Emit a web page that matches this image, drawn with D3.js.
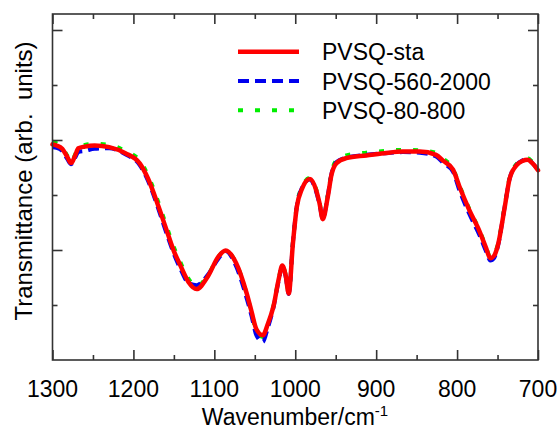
<!DOCTYPE html>
<html>
<head>
<meta charset="utf-8">
<script src="https://cdn.jsdelivr.net/npm/d3@7"></script>
<style>
  html, body { margin: 0; padding: 0; background: #fff; }
  svg { display: block; }
  text { font-family: "Liberation Sans", Arial, sans-serif; fill: #000; }
</style>
</head>
<body>
<svg id="chart" width="558" height="431"></svg>
<script>
// ---- data ----
const wavenumbers = [1300, 1295, 1288, 1282, 1277, 1272, 1268, 1260, 1248, 1230, 1210, 1192, 1182, 1169, 1159, 1150, 1142, 1132, 1122, 1108, 1095, 1086, 1073, 1060, 1054, 1048, 1040, 1034, 1027, 1020, 1016, 1012, 1008, 1003, 998, 992, 982, 974, 970, 966, 960, 955, 949, 937, 912, 890, 867, 846, 826, 817, 805, 797, 785, 772, 764, 759, 754, 750, 741, 735, 726, 719, 713, 707, 700];

const seriesNames = ["PVSQ-sta", "PVSQ-560-2000", "PVSQ-80-800"];

const pvsqSta = [3.92, 3.90, 3.84, 3.70, 3.58, 3.72, 3.85, 3.88, 3.90, 3.87, 3.76, 3.57, 3.30, 2.79, 2.36, 1.98, 1.72, 1.42, 1.29, 1.52, 1.88, 1.99, 1.76, 1.21, 0.88, 0.56, 0.45, 0.65, 0.97, 1.50, 1.72, 1.55, 1.21, 2.10, 2.79, 3.10, 3.29, 3.08, 2.85, 2.56, 2.95, 3.38, 3.58, 3.67, 3.72, 3.76, 3.79, 3.79, 3.73, 3.62, 3.46, 3.15, 2.73, 2.33, 2.03, 1.85, 1.90, 2.06, 2.79, 3.30, 3.55, 3.62, 3.64, 3.58, 3.45];

const pvsq560 = [3.87, 3.86, 3.80, 3.66, 3.56, 3.68, 3.78, 3.80, 3.84, 3.85, 3.74, 3.54, 3.26, 2.74, 2.30, 1.93, 1.66, 1.40, 1.36, 1.55, 1.84, 1.98, 1.70, 1.12, 0.80, 0.45, 0.33, 0.58, 0.95, 1.48, 1.70, 1.53, 1.20, 2.12, 2.80, 3.12, 3.28, 3.05, 2.83, 2.57, 2.97, 3.40, 3.60, 3.68, 3.73, 3.76, 3.78, 3.77, 3.70, 3.58, 3.42, 3.08, 2.66, 2.26, 1.97, 1.81, 1.86, 2.04, 2.80, 3.30, 3.56, 3.63, 3.65, 3.58, 3.46];

const pvsq80 = [3.97, 3.94, 3.86, 3.72, 3.60, 3.74, 3.87, 3.91, 3.93, 3.91, 3.80, 3.62, 3.36, 2.86, 2.43, 2.05, 1.78, 1.48, 1.34, 1.54, 1.88, 1.99, 1.76, 1.20, 0.86, 0.52, 0.42, 0.63, 0.98, 1.51, 1.73, 1.56, 1.23, 2.12, 2.82, 3.13, 3.31, 3.10, 2.87, 2.58, 2.98, 3.42, 3.63, 3.72, 3.77, 3.80, 3.82, 3.81, 3.77, 3.66, 3.48, 3.17, 2.75, 2.35, 2.05, 1.87, 1.92, 2.08, 2.82, 3.32, 3.57, 3.64, 3.67, 3.60, 3.47];

const xMajorTicks = [1300, 1200, 1100, 1000, 900, 800, 700];
const xMinorTicks = [1250, 1150, 1050, 950, 850, 750];
const yMajorTicks = [2, 4, 6];
const yMinorTicks = [1, 3, 5];

// ---- layout ----
const svg = d3.select("#chart");
const L = 52.5, R = 538, T = 14, B = 360;

const x = d3.scaleLinear().domain([1300, 700]).range([L, R]);
const y = d3.scaleLinear().domain([0, (B - T) / 55]).range([B, T]);

const axisColor = "#333";

const styles = {
  "PVSQ-sta": { color: "#ff0000", width: 4.5, dash: null },
  "PVSQ-560-2000": { color: "#0000ee", width: 4, dash: "11,6" },
  "PVSQ-80-800": { color: "#00ee00", width: 4, dash: "5,12" }
};
const seriesValues = { "PVSQ-sta": pvsqSta, "PVSQ-560-2000": pvsq560, "PVSQ-80-800": pvsq80 };

const line = d3.line()
  .x(d => x(d[0]))
  .y(d => y(d[1]))
  .curve(d3.curveMonotoneX);

// draw green, then blue, then red on top
["PVSQ-80-800", "PVSQ-560-2000", "PVSQ-sta"].forEach(name => {
  const s = styles[name];
  const pts = wavenumbers.map((w, i) => [w, seriesValues[name][i]]);
  svg.append("path")
    .datum(pts)
    .attr("d", line)
    .attr("fill", "none")
    .attr("stroke", s.color)
    .attr("stroke-width", s.width)
    .attr("stroke-linejoin", "round")
    .attr("stroke-linecap", s.dash ? "butt" : "round")
    .attr("stroke-dasharray", s.dash);
});

// frame
svg.append("rect")
  .attr("x", L).attr("y", T)
  .attr("width", R - L).attr("height", B - T)
  .attr("fill", "none")
  .attr("stroke", axisColor)
  .attr("stroke-width", 1.6);

// axes via d3 axis with inward ticks
const gs = [
  svg.append("g").attr("transform", `translate(0,${B})`).call(d3.axisBottom(x).tickValues(xMajorTicks).tickSize(-10).tickFormat("")),
  svg.append("g").attr("transform", `translate(0,${B})`).call(d3.axisBottom(x).tickValues(xMinorTicks).tickSize(-5).tickFormat("")),
  svg.append("g").attr("transform", `translate(0,${T})`).call(d3.axisTop(x).tickValues(xMajorTicks).tickSize(-10).tickFormat("")),
  svg.append("g").attr("transform", `translate(0,${T})`).call(d3.axisTop(x).tickValues(xMinorTicks).tickSize(-5).tickFormat("")),
  svg.append("g").attr("transform", `translate(${L},0)`).call(d3.axisLeft(y).tickValues(yMajorTicks).tickSize(-10).tickFormat("")),
  svg.append("g").attr("transform", `translate(${L},0)`).call(d3.axisLeft(y).tickValues(yMinorTicks).tickSize(-5).tickFormat("")),
  svg.append("g").attr("transform", `translate(${R},0)`).call(d3.axisRight(y).tickValues(yMajorTicks).tickSize(-10).tickFormat("")),
  svg.append("g").attr("transform", `translate(${R},0)`).call(d3.axisRight(y).tickValues(yMinorTicks).tickSize(-5).tickFormat(""))
];
gs.forEach(g => {
  g.select(".domain").remove();
  g.selectAll(".tick line").attr("stroke", axisColor).attr("stroke-width", 1.6);
});

// x tick labels
svg.append("g").selectAll("text")
  .data(xMajorTicks)
  .join("text")
  .attr("x", d => x(d))
  .attr("y", 397)
  .attr("text-anchor", "middle")
  .attr("font-size", 23)
  .text(d => d);

// x axis title
const xt = svg.append("text")
  .attr("x", 295)
  .attr("y", 425)
  .attr("text-anchor", "middle")
  .attr("font-size", 23);
xt.append("tspan").text("Wavenumber/cm");
xt.append("tspan").attr("dy", -9).attr("font-size", 15).text("-1");

// y axis title
svg.append("text")
  .attr("transform", `translate(32,181) rotate(-90)`)
  .attr("text-anchor", "middle")
  .attr("font-size", 24)
  .attr("xml:space", "preserve")
  .text("Transmittance (arb.  units)");

// legend (order: sta, 560-2000, 80-800)
const lg = svg.append("g");
seriesNames.forEach((name, i) => {
  const s = styles[name];
  const cy = 51.7 + i * 29.3;
  lg.append("line")
    .attr("x1", 238).attr("x2", 299)
    .attr("y1", cy).attr("y2", cy)
    .attr("stroke", s.color)
    .attr("stroke-width", s.width)
    .attr("stroke-dasharray", s.dash);
  lg.append("text")
    .attr("x", 322)
    .attr("y", cy + 8.5)
    .attr("font-size", 23)
    .text(name);
});
</script>
</body>
</html>
